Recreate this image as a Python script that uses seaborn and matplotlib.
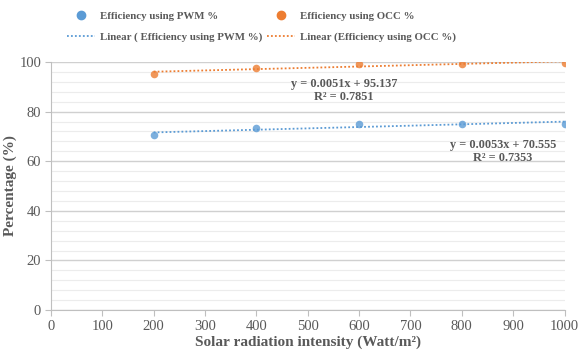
import numpy as np
import pandas as pd
import matplotlib
matplotlib.use('Agg')
import matplotlib.pyplot as plt
from matplotlib.ticker import MultipleLocator
from matplotlib.lines import Line2D
import seaborn as sns

sns.set_style('white')
plt.rcParams['font.family'] = ['Liberation Serif', 'DejaVu Serif']

radiation = [200, 400, 600, 800, 1000]
eff_pwm = [70.5, 73.3, 75.0, 75.0, 75.1]
eff_occ = [95.2, 97.6, 99.1, 99.3, 99.6]
eq_pwm = 'y = 0.0053x + 70.555\nR² = 0.7353'
eq_occ = 'y = 0.0051x + 95.137\nR² = 0.7851'

blue = '#5B9BD5'
orange = '#ED7D31'
txt = '#595959'
serif = ['Liberation Serif', 'DejaVu Serif']

df = pd.DataFrame({'x': radiation, 'pwm': eff_pwm, 'occ': eff_occ})

fig = plt.figure(figsize=(5.79, 3.54), dpi=100)
ax = fig.add_axes([0.088, 0.124, 0.887, 0.701])

for col, c in [('pwm', blue), ('occ', orange)]:
    sns.regplot(data=df, x='x', y=col, ax=ax, ci=None, color=c,
                scatter_kws={'s': 30, 'zorder': 3, 'linewidths': 0},
                line_kws={'linestyle': (0, (1, 1.2)), 'linewidth': 1.3})

ax.set_xlim(0, 1000)
ax.set_ylim(0, 100)
ax.yaxis.set_minor_locator(MultipleLocator(4))
ax.grid(which='major', axis='y', color='#d0d0d0', linewidth=1)
ax.grid(which='minor', axis='y', color='#ececec', linewidth=0.8)
ax.set_axisbelow(True)
for s in ['top', 'right']:
    ax.spines[s].set_visible(False)
for s in ['left', 'bottom']:
    ax.spines[s].set_color('#bfbfbf')
ax.tick_params(axis='both', which='major', labelsize=10.5, labelcolor=txt,
               color='#bfbfbf', length=4, direction='out', pad=3)
ax.tick_params(axis='y', which='minor', length=0)
ax.tick_params(axis='x', bottom=True)
ax.tick_params(axis='y', left=True)
ax.set_xticks(list(range(0, 1001, 100)))
ax.set_xticklabels([str(v) for v in range(0, 1001, 100)], fontfamily=serif)
ax.set_yticks(list(range(0, 101, 20)))
ax.set_yticklabels([str(v) for v in range(0, 101, 20)], fontfamily=serif)

ax.set_xlabel('Solar radiation intensity (Watt/m²)', fontsize=11,
              fontweight='bold', color=txt, labelpad=2, fontfamily=serif)
ax.set_ylabel('Percentage (%)', fontsize=11, fontweight='bold', color=txt,
              labelpad=2, fontfamily=serif)

ax.text(570, 88.5, eq_occ, ha='center', va='center', fontsize=8.8,
        fontweight='bold', color=txt, linespacing=1.1)
ax.text(880, 63.9, eq_pwm, ha='center', va='center', fontsize=8.8,
        fontweight='bold', color=txt, linespacing=1.1)

handles = [
    Line2D([], [], marker='o', linestyle='none', color=blue, markersize=6),
    Line2D([], [], color=blue, linestyle=(0, (1, 1.2)), linewidth=1.3),
    Line2D([], [], marker='o', linestyle='none', color=orange, markersize=6),
    Line2D([], [], color=orange, linestyle=(0, (1, 1.2)), linewidth=1.3),
]
labels = ['Efficiency using PWM %', 'Linear ( Efficiency using PWM %)',
          'Efficiency using OCC %', 'Linear (Efficiency using OCC %)']
leg = fig.legend(handles, labels, ncol=2, loc='upper center', bbox_to_anchor=(0.452, 0.995),
                 frameon=False, prop={'size': 7.8, 'weight': 'bold', 'family': serif},
                 handlelength=2.6, columnspacing=0.45, handletextpad=0.45, labelspacing=1.05)
for t in leg.get_texts():
    t.set_color(txt)

plt.savefig('out.png', dpi=100)
